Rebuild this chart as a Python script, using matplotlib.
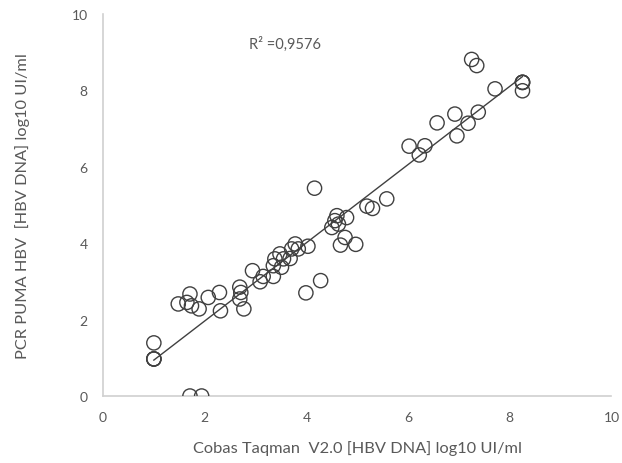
import numpy as np
import matplotlib
matplotlib.use("Agg")
import matplotlib.pyplot as plt

plt.rcParams['font.family'] = ['Lato', 'DejaVu Sans']

cobas = [1.0, 1.0, 1.0, 1.0, 1.71, 1.94, 1.48, 1.71, 1.65, 1.74, 1.89, 2.07, 2.29, 2.31,
         2.69, 2.71, 2.69, 2.77, 2.94, 3.09, 3.15, 3.35, 3.35, 3.38, 3.48, 3.51, 3.55,
         3.68, 3.71, 3.78, 3.84, 3.99, 4.03, 4.16, 4.28, 4.50, 4.56, 4.60, 4.63, 4.79,
         4.76, 4.67, 4.97, 5.19, 5.30, 5.58, 6.02, 6.22, 6.33, 6.57, 6.96, 6.92, 7.18,
         7.25, 7.35, 7.38, 7.71, 8.25, 8.25, 8.25, 8.25]
puma = [0.97, 0.97, 0.97, 1.39, 0.0, 0.0, 2.41, 2.67, 2.45, 2.36, 2.28, 2.58, 2.71, 2.23,
        2.85, 2.71, 2.54, 2.28, 3.28, 2.99, 3.13, 3.13, 3.41, 3.59, 3.72, 3.37, 3.59,
        3.60, 3.85, 3.98, 3.85, 2.70, 3.92, 5.44, 3.02, 4.41, 4.59, 4.72, 4.50, 4.67,
        4.15, 3.95, 3.97, 4.97, 4.91, 5.16, 6.54, 6.31, 6.55, 7.15, 6.81, 7.38, 7.14,
        8.81, 8.65, 7.43, 8.04, 8.21, 8.21, 8.21, 7.99]
r2_label = "R² =0,9576"
x_ticks = [0, 2, 4, 6, 8, 10]
y_ticks = [0, 2, 4, 6, 8, 10]

x = np.array(cobas)
y = np.array(puma)

fig = plt.figure(figsize=(6.22, 4.64), dpi=100)
ax = fig.add_axes([0.1656, 0.1444, 0.8175, 0.8233])

ax.scatter(x, y, s=105, facecolors='none', edgecolors='#404040', linewidths=1.0, zorder=3)

slope, intercept = np.polyfit(x, y, 1)
xl = np.array([x.min(), x.max()])
ax.plot(xl, slope * xl + intercept, color='#404040', lw=1.0, zorder=2)

ax.set_xlim(0, 10)
ax.set_ylim(0, 10)
ax.set_xticks(x_ticks)
ax.set_yticks(y_ticks)
ax.tick_params(length=0, pad=11, labelsize=10, labelcolor='#595959')
for s in ['top', 'right']:
    ax.spines[s].set_visible(False)
for s in ['left', 'bottom']:
    ax.spines[s].set_color('#d0d0d0')
    ax.spines[s].set_linewidth(1.2)

ax.set_xlabel("Cobas Taqman  V2.0 [HBV DNA] log10 UI/ml", fontsize=11.8, color='#595959', labelpad=12)
ax.set_ylabel("PCR PUMA HBV  [HBV DNA] log10 UI/ml", fontsize=11.8, color='#595959', labelpad=30)

ax.text(2.87, 9.24, r2_label, fontsize=10.5, color='#595959', va='center', ha='left')

fig.savefig("out.png", dpi=100)
